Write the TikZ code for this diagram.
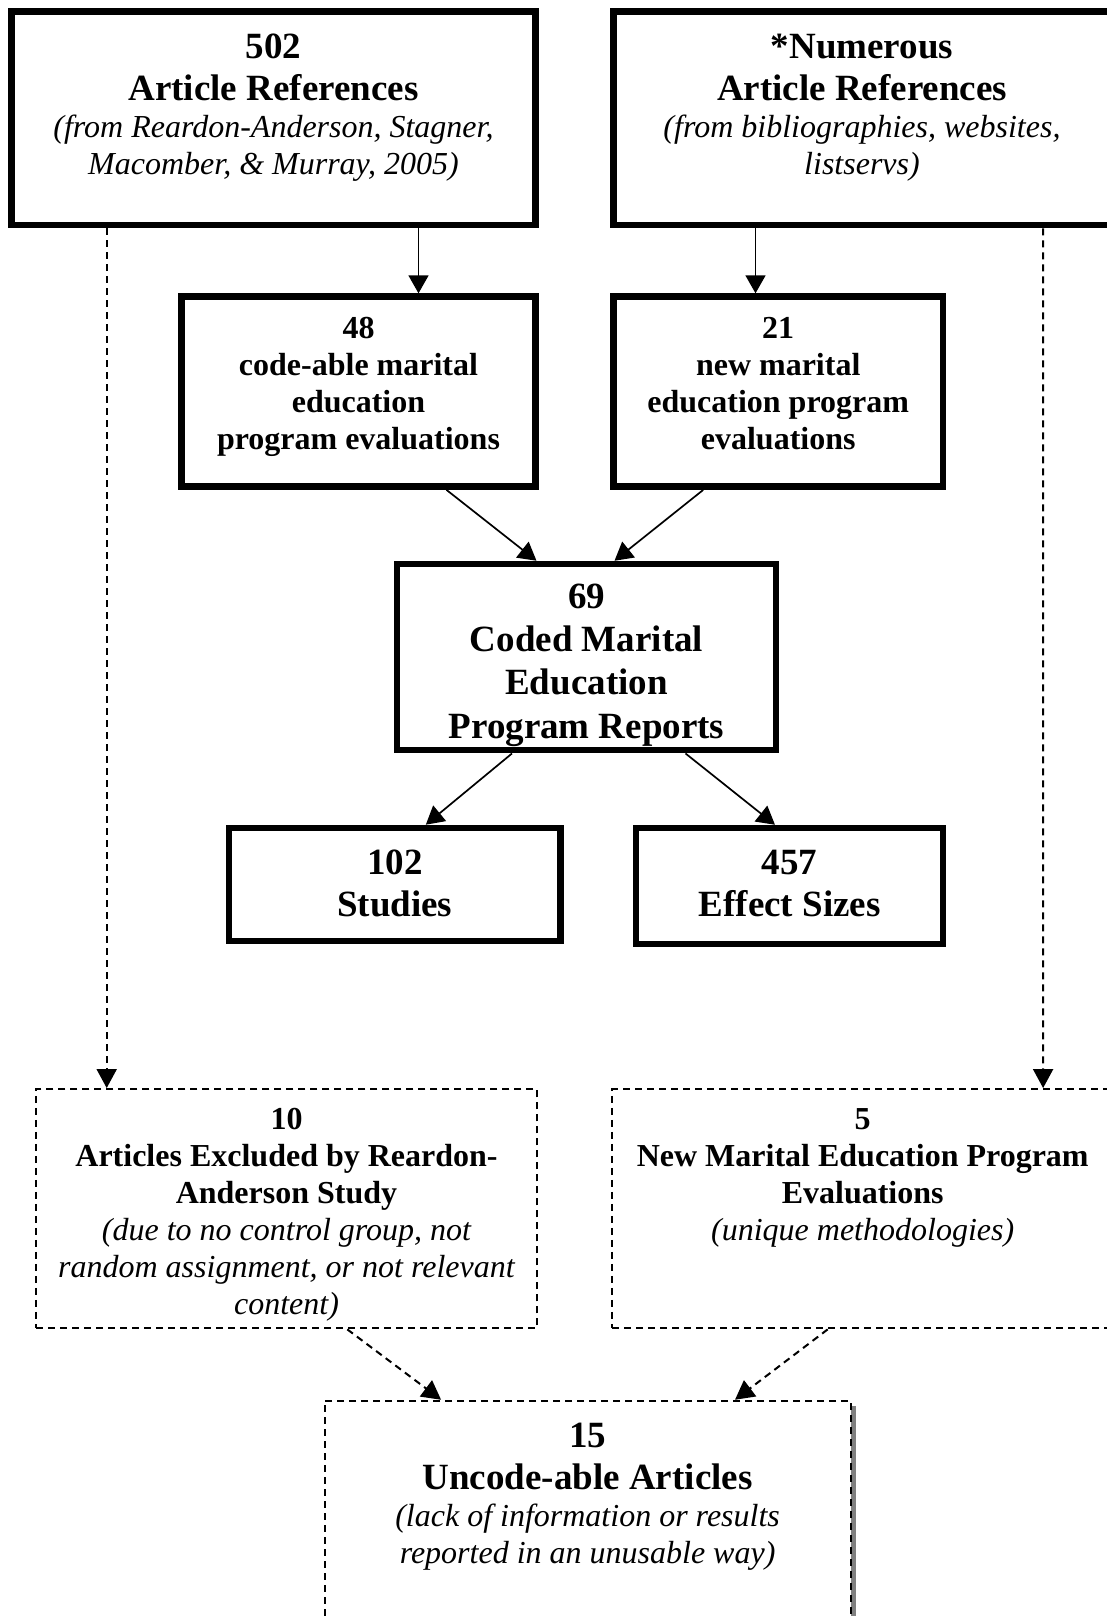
\documentclass[tikz,border=0pt]{standalone}
\usepackage{fontspec}
\setmainfont{Liberation Serif}
\usetikzlibrary{arrows.meta,shadows}
\newcommand{\bigbold}{\fontsize{37}{42}\selectfont\bfseries\spaceskip=\fontdimen2\font\relax}
\newcommand{\smallbold}{\fontsize{32}{37}\selectfont\bfseries\spaceskip=\fontdimen2\font\relax}
\newcommand{\smallital}{\fontsize{32}{37}\selectfont\itshape\spaceskip=\fontdimen2\font\relax}
\tikzset{
	solidbox/.style={draw,line width=6.5pt,align=center,inner sep=0pt},
	dashbox/.style={draw,line width=2pt,dash pattern=on 7pt off 5pt,align=center,inner sep=0pt,fill=white},
	solidarrow/.style={line width=1.7pt,-{Triangle[width=20pt,length=18pt]}},
	dasharrow/.style={line width=2pt,dash pattern=on 7pt off 5pt,-{Triangle[width=20pt,length=19pt]}}
}
\begin{document}
\begin{tikzpicture}[x=1pt,y=-1pt]
	\useasboundingbox (0,0) rectangle (1106,1616);
	\node[solidbox,text width=523.6pt,text height=46.7pt,text depth=167pt] (rasrefs) at (273.5,118.2)
		{{\bigbold 502\\Article References\par}{\smallital (from Reardon-Anderson, Stagner,\\Macomber, \& Murray, 2005)\par}};
	\node[solidbox,text width=497.4pt,text height=46.7pt,text depth=167pt] (otherrefs) at (862,118.2)
		{{\bigbold *Numerous\\Article References\par}{\smallital (from bibliographies, websites,\\listservs)\par}};
	\node[solidbox,text width=354.4pt,text height=42.2pt,text depth=147.9pt] (codeable) at (358.5,391.6)
		{\smallbold 48\\code-able marital\\education\\program evaluations\par};
	\node[solidbox,text width=329.7pt,text height=42.2pt,text depth=147.9pt] (newevals) at (778.2,391.6)
		{\smallbold 21\\new marital\\education program\\evaluations\par};
	\node[solidbox,text width=379pt,text height=44.2pt,text depth=142pt] (coded) at (586.5,657.1)
		{\bigbold\baselineskip=43.3pt 69\\Coded Marital\\Education\\Program Reports\par};
	\node[solidbox,text width=331.5pt,text height=46.2pt,text depth=66.7pt] (studies) at (394.8,884.4)
		{\bigbold 102\\Studies\par};
	\node[solidbox,text width=306.8pt,text height=46.2pt,text depth=69.8pt] (effects) at (789.6,886)
		{\bigbold 457\\Effect Sizes\par};
	\node[dashbox,text width=501pt,text height=40.3pt,text depth=199pt] (excluded) at (286.5,1208.7)
		{{\smallbold 10\\Articles Excluded by Reardon-\\Anderson Study\par}{\smallital (due to no control group, not\\random assignment, or not relevant\\content)\par}};
	\node[dashbox,text width=501pt,text height=40.3pt,text depth=199pt] (unique) at (862.7,1208.7)
		{{\smallbold 5\\New Marital Education Program\\Evaluations\par}{\smallital (unique methodologies)\par}};
	\node[dashbox,drop shadow={shadow xshift=5pt,shadow yshift=-5pt,fill=gray,opacity=1,draw=none},text width=526.1pt,text height=46.5pt,text depth=192.8pt] (uncodeable) at (587.6,1520.4)
		{{\bigbold 15\\Uncode-able Articles\par}{\smallital (lack of information or results\\reported in an unusable way)\par}};
	\draw[solidarrow] ([xshift=145pt]rasrefs.south) -- ([xshift=60pt]codeable.north);
	\draw[solidarrow] ([xshift=-106.5pt]otherrefs.south) -- ([xshift=-22.7pt]newevals.north);
	\draw[dasharrow] ([xshift=-166.8pt]rasrefs.south) -- ([xshift=-179.8pt]excluded.north);
	\draw[dasharrow] ([xshift=181.1pt]otherrefs.south) -- ([xshift=180.4pt]unique.north);
	\draw[solidarrow] ([xshift=88pt]codeable.south) -- ([xshift=-50pt]coded.north);
	\draw[solidarrow] ([xshift=-75pt]newevals.south) -- ([xshift=28pt]coded.north);
	\draw[solidarrow] ([xshift=-74.5pt]coded.south) -- ([xshift=31pt]studies.north);
	\draw[solidarrow] ([xshift=99pt]coded.south) -- ([xshift=-14.6pt]effects.north);
	\draw[dasharrow] ([xshift=60.8pt]excluded.south) -- ([xshift=-146.5pt]uncodeable.north);
	\draw[dasharrow] ([xshift=-35pt]unique.south) -- ([xshift=147.4pt]uncodeable.north);
\end{tikzpicture}
\end{document}
